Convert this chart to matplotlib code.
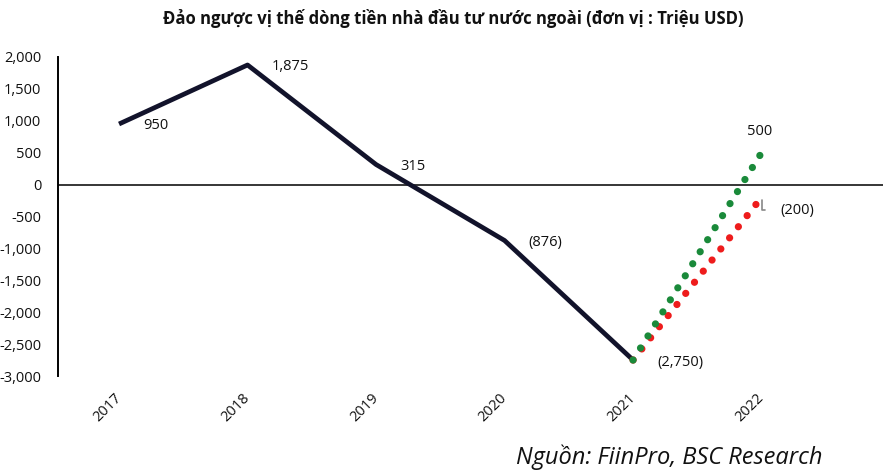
import matplotlib
matplotlib.use("Agg")
import matplotlib.pyplot as plt
import matplotlib.transforms as mtransforms

plt.rcParams['font.family'] = ['Open Sans', 'DejaVu Sans']

# dữ liệu
nam = ['2017', '2018', '2019', '2020', '2021', '2022']
dong_tien = [950, 1875, 315, -876, -2750]
nhan_dong_tien = ['950', '1,875', '315', '(876)', '(2,750)']
kich_ban_tot = [-2750, 500]      # 2021 -> 2022
kich_ban_xau = [-2750, -200]
nhan_tot = '500'
nhan_xau = '(200)'
y_ticks = [2000, 1500, 1000, 500, 0, -500, -1000, -1500, -2000, -2500, -3000]

fig = plt.figure(figsize=(8.83, 4.72), dpi=100)
ax = fig.add_axes([58 / 883, 1 - 376 / 472, 1 - 58 / 883, 319 / 472])

x_main = list(range(len(dong_tien)))
x_du_bao = [4, 5]

ax.plot(x_main, dong_tien, color='#12132b', lw=3.4, solid_capstyle='butt', zorder=3)
ax.plot(x_du_bao, kich_ban_xau, color='#ee1c1c', lw=5.2,
        linestyle=(0, (0.01, 1.95)), dash_capstyle='round', zorder=4)
ax.plot(x_du_bao, kich_ban_tot, color='#1a8a3a', lw=5.2,
        linestyle=(0, (0.01, 1.95)), dash_capstyle='round', zorder=5)

ax.axhline(0, color='black', lw=1.1, zorder=2)

for xi, v, s in zip(x_main, dong_tien, nhan_dong_tien):
    ax.annotate(s, xy=(xi, v), xytext=(24, -2), textcoords='offset pixels',
                ha='left', va='center', fontsize=10.5, color='#111111')

ax.annotate(nhan_tot, xy=(x_du_bao[1], kich_ban_tot[1]), xytext=(-2, 21),
            textcoords='offset pixels', ha='center', va='center',
            fontsize=10.5, color='#111111')
ax.annotate(nhan_xau, xy=(x_du_bao[1], kich_ban_xau[1]), xytext=(19, -13),
            textcoords='offset pixels', ha='left', va='center',
            fontsize=10.5, color='#111111',
            arrowprops=dict(arrowstyle='-', color='#888888', lw=1.2,
                            connectionstyle='angle,angleA=0,angleB=90',
                            shrinkA=9, shrinkB=2))

ax.set_xlim(-0.475, 5.945)
ax.set_ylim(-3000, 2000)
ax.set_yticks(y_ticks)
ax.set_yticklabels([f'{v:,}' for v in y_ticks], fontsize=10.5, color='#111111')
ax.set_xticks(range(len(nam)))
ax.set_xticklabels(nam, rotation=45, ha='right', va='center',
                   rotation_mode='anchor', fontsize=10.5, color='#111111')
offset = mtransforms.ScaledTranslation(3 / 100, 0, fig.dpi_scale_trans)
for lbl in ax.get_xticklabels():
    lbl.set_transform(lbl.get_transform() + offset)

ax.tick_params(axis='y', length=0, pad=12)
ax.tick_params(axis='x', length=0, pad=14)
for side in ['top', 'right', 'bottom']:
    ax.spines[side].set_visible(False)
ax.spines['left'].set_linewidth(1.4)
ax.spines['left'].set_color('black')

fig.text(453 / 883, 1 - 18 / 472,
         'Đảo ngược vị thế dòng tiền nhà đầu tư nước ngoài (đơn vị : Triệu USD)',
         ha='center', va='center', fontsize=12, fontweight='bold', color='#111111')
fig.text(822 / 883, 1 - 457 / 472, 'Nguồn: FiinPro, BSC Research',
         ha='right', va='center', fontsize=17, fontstyle='italic', color='#111111')

fig.savefig('out.png', dpi=100)
